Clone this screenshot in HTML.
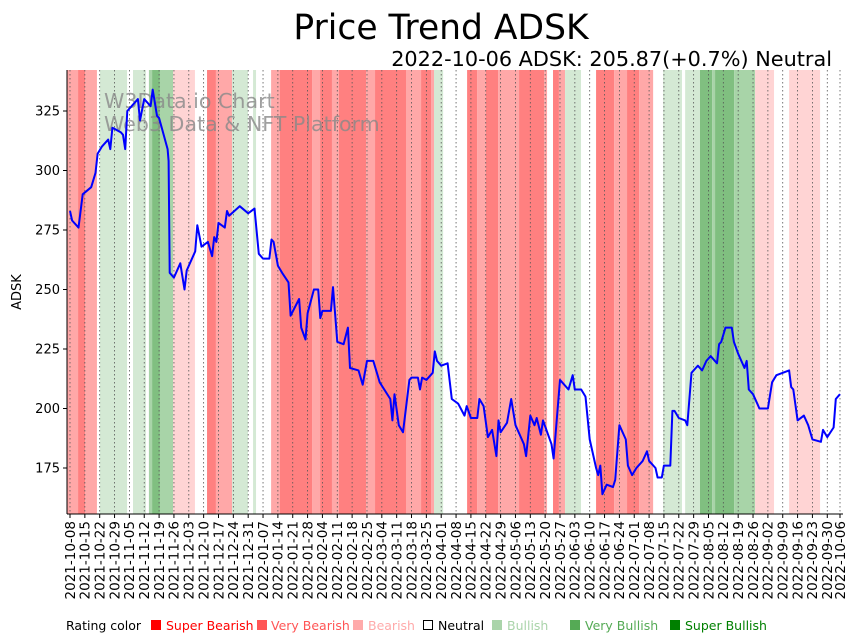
<!DOCTYPE html>
<html><head><meta charset="utf-8"><style>
body{margin:0;background:#fff;}
svg{display:block;font-family:"DejaVu Sans","Liberation Sans",sans-serif;}
</style></head><body>
<svg id="chart" width="859" height="641" viewBox="0 0 859 641">
<text x="441" y="39" font-size="34.5" text-anchor="middle">Price Trend ADSK</text>
<text x="832" y="66" font-size="20.8" text-anchor="end">2022-10-06 ADSK: 205.87(+0.7%) Neutral</text>
<g id="bands"></g>
<g id="grid"></g>
<text x="104" y="108" font-size="20.6" fill="#888" fill-opacity="0.8">W3Data.io Chart</text>
<text x="104" y="131" font-size="20.6" fill="#888" fill-opacity="0.8">Web3 Data &amp; NFT Platform</text>
<path id="priceLine" fill="none" stroke="#0000ff" stroke-width="2" stroke-linejoin="round"/>
<g id="axes"></g>
<text transform="translate(21,292) rotate(-90)" font-size="13" text-anchor="middle">ADSK</text>
<g id="legend" font-size="12.5">
<text x="66" y="630">Rating color</text>
<rect x="151" y="620" width="10" height="10" fill="#ff0000"/>
<text x="166" y="630" fill="#ff0000">Super Bearish</text>
<rect x="257" y="620" width="10" height="10" fill="#ff5555"/>
<text x="271" y="630" fill="#ff5555">Very Bearish</text>
<rect x="353" y="620" width="10" height="10" fill="#ffaaaa"/>
<text x="368" y="630" fill="#ffaaaa">Bearish</text>
<rect x="423.5" y="620.5" width="9" height="9" fill="#fff" stroke="#000"/>
<text x="438" y="630" fill="#000">Neutral</text>
<rect x="492" y="620" width="10" height="10" fill="#aad4aa"/>
<text x="507" y="630" fill="#aad4aa">Bullish</text>
<rect x="570" y="620" width="10" height="10" fill="#55aa55"/>
<text x="585" y="630" fill="#55aa55">Very Bullish</text>
<rect x="670" y="620" width="10" height="10" fill="#008000"/>
<text x="685" y="630" fill="#008000">Super Bullish</text>
</g>
</svg>
<script>
// data: [dayOffset from 2021-10-08, price]
const priceDays = [0,1,4,6,10,12,13,15,18,19,20,24,25,26,27,32,33,35,38,39,41,42,46,46.5,47,49,52,54,55,59,60,62,65,67,68,69,70,73,74,75,80,84,87,89,91,94,95,96,98,100,103,104,108,109,111,112,115,117,118,119,123,124,126,129,131,132,136,138,140,143,145,146,151,152,153,155,157,160,161,164,165,166,168,171,172,173,175,178,180,183,186,187,189,192,193,195,197,199,201,202,203,206,208,210,213,214,215,217,219,220,222,223,227,228,231,235,237,238,241,243,245,248,249,250,251,253,256,257,259,262,263,265,267,270,272,273,276,277,279,280,283,284,285,287,290,291,293,295,296,298,300,302,305,306,307,309,312,313,315,318,319,320,322,324,325,329,331,333,339,340,341,343,346,348,350,354,355,357,360,361,363];
const priceVals = [283,279,276,290,293,299,307,310,313,309,318,316,315,309,325,330,321,330,327,334,323,322,309,304,257,255,261,250,258,266,277,268,270,264,272,270,278,276,283,281,285,282,284,265,263,263,271,270,260,257,253,239,246,234,229,240,250,250,238,241,241,251,228,227,234,217,216,210,220,220,214,211,204,195,206,193,190,212,213,213,208,213,212,215,224,220,218,219,204,202,197,201,196,196,204,201,188,191,180,195,190,194,204,193,187,185,180,197,193,196,189,195,185,179,212,208,214,208,208,205,187,175,172,176,164,168,167,170,193,187,176,172,175,178,182,178,175,171,171,176,176,199,199,196,195,193,215,217,218,216,220,222,219,227,228,234,234,228,223,217,220,208,206,202,200,200,211,214,216,209,208,195,197,193,187,186,191,188,192,204,206];
const bandStarts = [-1.4,3.8,7.1,12.7,14.1,26.9,29.7,35.8,37.2,38.7,42.4,48.6,58.9,64.6,68.8,76.4,83.9,86.3,87.7,94.8,99,114.1,117.9,123.5,126.8,139.6,143.8,158.4,165.5,170.2,171.6,175.9,187.2,191.9,196.1,201.8,211.7,223.5,224.9,227.7,230.5,233.4,240.9,248,256.5,262.6,268.3,274.9,279.6,288.5,290,297,302.7,304.1,313.1,323,331.9,339,353.6];
const bandEnds   = [3.8,7.1,12.7,14.1,26.9,29.7,35.8,37.2,38.7,42.4,48.6,58.9,64.6,68.8,76.4,83.9,86.3,87.7,94.8,99,114.1,117.9,123.5,126.8,139.6,143.8,158.4,165.5,170.2,171.6,175.9,187.2,191.9,196.1,201.8,211.7,223.5,224.9,227.7,230.5,233.4,240.9,248,256.5,262.6,268.3,274.9,279.6,288.5,290,297,302.7,304.1,313.1,323,331.9,339,353.6,364.5];
const bandLevels = [-2,-3,-2,0,1,0,1,0,2,3,2,-1,0,-3,-2,1,0,1,0,-2,-3,-2,-3,-2,-3,-2,-3,-2,-3,-2,1,0,-3,-2,-3,-2,-3,-2,0,-3,-2,1,0,-3,-2,-3,-2,0,1,0,1,3,2,3,2,-1,0,-1,0];
const yTicks = [175,200,225,250,275,300,325];
const tickDays = [];
for(let d=0; d<=357; d+=7) tickDays.push(d);
tickDays.push(363);

const NS="http://www.w3.org/2000/svg";
const L=67,R=843,T=70,B=514;
const xS=d=>70+d*(770/363);
const yS=v=>111+(325-v)*(357/150);
const colors={"-3":"#ff8080","-2":"#ffa8a8","-1":"#ffd4d4","0":"none","1":"#d4e9d4","2":"#a8d4a8","3":"#80bf80"};
function mk(tag,attrs,parent){const e=document.createElementNS(NS,tag);for(const k in attrs)e.setAttribute(k,attrs[k]);parent.appendChild(e);return e;}
function fmt(d){const dt=new Date(Date.UTC(2021,9,8)+d*86400000);return dt.toISOString().slice(0,10);}

const bands=document.getElementById('bands');
for(let i=0;i<bandLevels.length;i++){
  if(bandLevels[i]===0) continue;
  const x0=Math.max(L,xS(bandStarts[i])), x1=Math.min(R,xS(bandEnds[i]));
  const r=mk('rect',{x:x0,y:T,width:Math.max(0,x1-x0),height:B-T,fill:colors[bandLevels[i]]},bands);
  
  
}
const grid=document.getElementById('grid');
const axes=document.getElementById('axes');
tickDays.forEach(d=>{
  const x=xS(d);
  const g=mk('line',{x1:x,x2:x,y1:T,y2:B,stroke:'#555','stroke-width':0.8,'stroke-dasharray':'1.5,2.5'},grid);
  
  
  const t=mk('line',{x1:x,x2:x,y1:B,y2:B+4,stroke:'#000','stroke-width':1},axes);
  
  
  const lb=mk('text',{transform:`translate(${x+4.8},${B+7}) rotate(-90)`,'font-size':13.5,'text-anchor':'end'},axes);
  lb.textContent=fmt(d);
  
  
});
yTicks.forEach(v=>{
  const y=yS(v);
  const t=mk('line',{x1:L-4,x2:L,y1:y,y2:y,stroke:'#000'},axes);
  
  
  const lb=mk('text',{x:L-7,y:y+4.5,'font-size':13,'text-anchor':'end'},axes);
  lb.textContent=v;
  
  
});
const la=mk('line',{x1:L,x2:L,y1:T,y2:B,stroke:'#000','stroke-width':1},axes);


const ba=mk('line',{x1:L,x2:R,y1:B,y2:B,stroke:'#000','stroke-width':1},axes);



let dstr='';
priceDays.forEach((d,i)=>{dstr+=(i?'L':'M')+xS(d).toFixed(1)+','+yS(priceVals[i]).toFixed(1);});
document.getElementById('priceLine').setAttribute('d',dstr);
</script>
</body></html>
